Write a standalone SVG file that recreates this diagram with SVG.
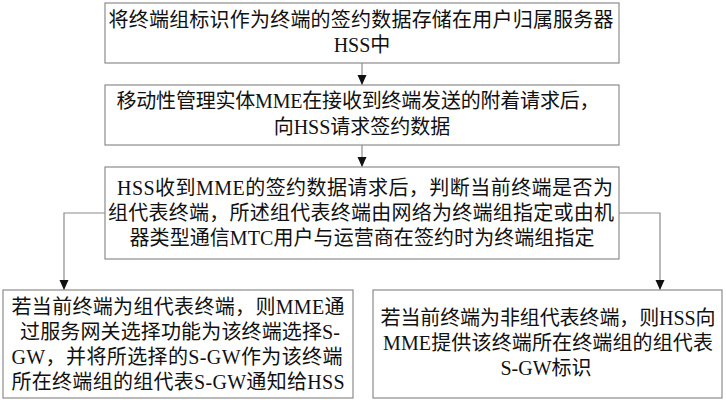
<svg xmlns="http://www.w3.org/2000/svg" width="726" height="400" viewBox="0 0 726 400">
<defs>
<style>
.box{fill:#fff;stroke:#8c8c8c;stroke-width:1.2}
.t{font-family:"Liberation Serif","Noto Sans CJK SC",serif;font-size:20px;fill:#111;text-anchor:middle}
.c{fill:none;stroke:#8c8c8c;stroke-width:1.2}
</style>
<marker id="ah" markerUnits="userSpaceOnUse" markerWidth="10" markerHeight="10" viewBox="0 0 10 10" refX="10" refY="5" orient="auto">
<path d="M0,0.5 L10,5 L0,9.5 Z" fill="#111"/>
</marker>
</defs>
<rect width="726" height="400" fill="#fff"/>
<g id="connectors">
<path class="c" d="M362,63 V85" marker-end="url(#ah)"/>
<path class="c" d="M362,145 V167" marker-end="url(#ah)"/>
<path class="c" d="M105,213 H64 V290" marker-end="url(#ah)"/>
<path class="c" d="M619,213 H660 V290" marker-end="url(#ah)"/>
</g>
<g id="n1">
<rect class="box" x="105" y="3" width="514" height="60"/>
<text class="t" x="361" y="27" textLength="505">将终端组标识作为终端的签约数据存储在用户归属服务器</text>
<text class="t" x="362" y="52">HSS中</text>
</g>
<g id="n2">
<rect class="box" x="105" y="85" width="514" height="60"/>
<text class="t" x="358" y="108" textLength="483">移动性管理实体MME在接收到终端发送的附着请求后，</text>
<text class="t" x="362" y="134">向HSS请求签约数据</text>
</g>
<g id="n3">
<rect class="box" x="105" y="167" width="514" height="92"/>
<text class="t" x="365" y="195" textLength="496">HSS收到MME的签约数据请求后，判断当前终端是否为</text>
<text class="t" x="361" y="220" textLength="506">组代表终端，所述组代表终端由网络为终端组指定或由机</text>
<text class="t" x="362" y="245" textLength="465">器类型通信MTC用户与运营商在签约时为终端组指定</text>
</g>
<g id="n4">
<rect class="box" x="3" y="290" width="350" height="108"/>
<text class="t" x="178" y="314" textLength="333">若当前终端为组代表终端，则MME通</text>
<text class="t" x="180" y="339" textLength="320">过服务网关选择功能为该终端选择S-</text>
<text class="t" x="177" y="364" textLength="331">GW，并将所选择的S-GW作为该终端</text>
<text class="t" x="178" y="389" textLength="333">所在终端组的组代表S-GW通知给HSS</text>
</g>
<g id="n5">
<rect class="box" x="373" y="290" width="349" height="108"/>
<text class="t" x="548" y="325" textLength="335">若当前终端为非组代表终端，则HSS向</text>
<text class="t" x="548" y="350" textLength="330">MME提供该终端所在终端组的组代表</text>
<text class="t" x="546" y="375">S-GW标识</text>
</g>
</svg>
